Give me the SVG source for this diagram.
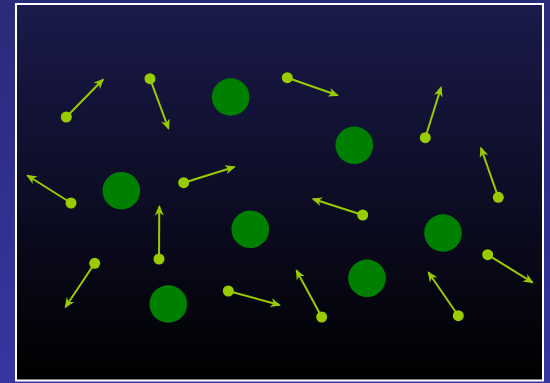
<svg xmlns="http://www.w3.org/2000/svg" width="550" height="383" viewBox="0 0 550 383">
  <defs>
    <linearGradient id="outer" x1="0" y1="0" x2="0" y2="1">
      <stop offset="0" stop-color="#2a2a7a"/>
      <stop offset="1" stop-color="#3636a2"/>
    </linearGradient>
    <linearGradient id="inner" x1="0" y1="0" x2="0" y2="1">
      <stop offset="0" stop-color="#1a1a4c"/>
      <stop offset="1" stop-color="#000000"/>
    </linearGradient>
    <marker id="arr" markerUnits="userSpaceOnUse" markerWidth="14" markerHeight="12" viewBox="-10 -6 14 12" refX="0" refY="0" orient="auto" overflow="visible">
      <path d="M-9,-4.5 L1.5,0 L-9,4.5 L-6,0 Z" fill="#99cc00"/>
    </marker>
    <style>
      .ball { fill: #008000; }
      .dot { fill: #99cc00; }
      .vec { stroke: #99cc00; stroke-width: 2; fill: none; marker-end: url(#arr); }
    </style>
  </defs>
  <rect x="0" y="0" width="550" height="383" fill="url(#outer)"/>
  <rect x="16" y="4" width="527" height="376.5" fill="url(#inner)" stroke="#ffffff" stroke-width="2"/>

  <g id="connectors">
    <line class="vec" x1="66.3" y1="117" x2="103" y2="79.5"/>
    <line class="vec" x1="150" y1="78.7" x2="168.5" y2="128.5"/>
    <line class="vec" x1="287.3" y1="77.7" x2="337.5" y2="95.3"/>
    <line class="vec" x1="425.3" y1="137.7" x2="441" y2="87.5"/>
    <line class="vec" x1="71" y1="203" x2="27.5" y2="175.5"/>
    <line class="vec" x1="183.7" y1="182.7" x2="234.3" y2="167"/>
    <line class="vec" x1="362.7" y1="215" x2="313" y2="199"/>
    <line class="vec" x1="498.3" y1="197.3" x2="481" y2="148"/>
    <line class="vec" x1="94.7" y1="263.3" x2="65.5" y2="307"/>
    <line class="vec" x1="159" y1="259" x2="159.3" y2="206.5"/>
    <line class="vec" x1="228.3" y1="291" x2="279.5" y2="305"/>
    <line class="vec" x1="321.7" y1="317" x2="296.5" y2="270.5"/>
    <line class="vec" x1="458.3" y1="315.7" x2="428.5" y2="272.5"/>
    <line class="vec" x1="487.7" y1="254.7" x2="532.5" y2="282.5"/>
  </g>

  <g id="dots">
    <circle id="p1" class="dot" cx="66.3" cy="117" r="5.5"/>
    <circle id="p2" class="dot" cx="150" cy="78.7" r="5.5"/>
    <circle id="p3" class="dot" cx="287.3" cy="77.7" r="5.5"/>
    <circle id="p4" class="dot" cx="425.3" cy="137.7" r="5.5"/>
    <circle id="p5" class="dot" cx="71" cy="203" r="5.5"/>
    <circle id="p6" class="dot" cx="183.7" cy="182.7" r="5.5"/>
    <circle id="p7" class="dot" cx="362.7" cy="215" r="5.5"/>
    <circle id="p8" class="dot" cx="498.3" cy="197.3" r="5.5"/>
    <circle id="p9" class="dot" cx="94.7" cy="263.3" r="5.5"/>
    <circle id="p10" class="dot" cx="159" cy="259" r="5.5"/>
    <circle id="p11" class="dot" cx="228.3" cy="291" r="5.5"/>
    <circle id="p12" class="dot" cx="321.7" cy="317" r="5.5"/>
    <circle id="p13" class="dot" cx="458.3" cy="315.7" r="5.5"/>
    <circle id="p14" class="dot" cx="487.7" cy="254.7" r="5.5"/>
  </g>

  <g id="balls">
    <circle id="b1" class="ball" cx="230.7" cy="97" r="18.8"/>
    <circle id="b2" class="ball" cx="354.3" cy="145.3" r="18.8"/>
    <circle id="b3" class="ball" cx="121.3" cy="190.7" r="18.8"/>
    <circle id="b4" class="ball" cx="250.3" cy="229.3" r="18.8"/>
    <circle id="b5" class="ball" cx="443" cy="233" r="18.8"/>
    <circle id="b6" class="ball" cx="367" cy="278.3" r="18.8"/>
    <circle id="b7" class="ball" cx="168.3" cy="304" r="18.8"/>
  </g>
</svg>
